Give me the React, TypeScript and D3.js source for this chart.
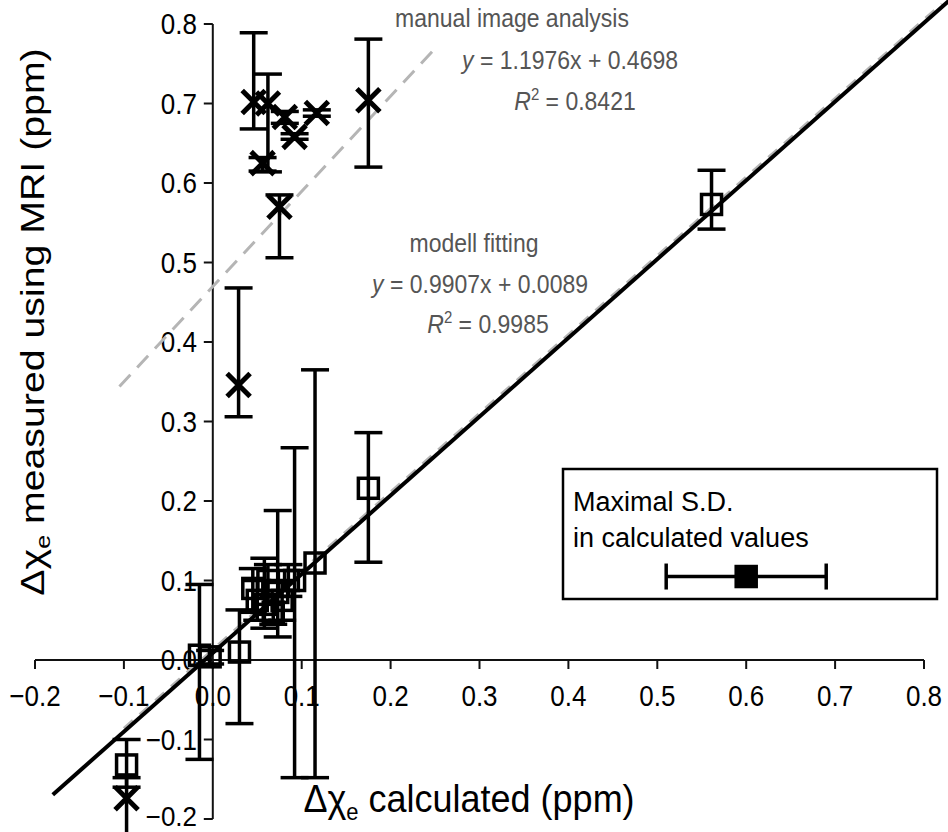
import React from "react";
import * as d3 from "d3";

// ---- data ----
const TICKS = [-0.2, -0.1, 0.0, 0.1, 0.2, 0.3, 0.4, 0.5, 0.6, 0.7, 0.8];

// model fitting (open squares)
const sqX = [-0.015, -0.003, 0.03, 0.045, 0.05, 0.058, 0.062, 0.068, 0.073, 0.078, 0.085, 0.092, 0.115, 0.175, 0.561, -0.097];
const sqY = [0.006, 0.004, 0.01, 0.09, 0.075, 0.07, 0.1, 0.06, 0.085, 0.075, 0.1, 0.1, 0.122, 0.216, 0.573, -0.132];
const sqLo = [-0.125, -0.005, -0.08, 0.06, 0.05, 0.04, 0.07, 0.045, 0.029, 0.05, 0.08, -0.148, -0.148, 0.123, 0.542, -0.16];
const sqHi = [0.095, 0.012, 0.063, 0.115, 0.1, 0.128, 0.12, 0.08, 0.188, 0.1, 0.12, 0.267, 0.365, 0.286, 0.616, -0.1];

// manual image analysis (crosses)
const crX = [0.046, 0.062, 0.056, 0.081, 0.092, 0.117, 0.075, 0.175, 0.029, -0.097];
const crY = [0.702, 0.7, 0.625, 0.683, 0.658, 0.688, 0.57, 0.704, 0.346, -0.174];
const crLo = [0.668, 0.614, 0.615, 0.675, 0.655, 0.684, 0.506, 0.62, 0.306, -0.22];
const crHi = [0.789, 0.737, 0.632, 0.69, 0.662, 0.692, 0.585, 0.781, 0.468, -0.148];

// fit lines
const modelFit = { slope: 0.9907, intercept: 0.0089, x0: -0.18, x1: 0.83 };
const refLine = { slope: 0.9907, intercept: 0.013, x0: -0.1, x1: 0.82 };
const manualFit = { slope: 1.1976, intercept: 0.4698, x0: -0.105, x1: 0.25 };

// legend sample
const legendX = [0.6];
const legendY = [0.105];
const legendSD = [0.09];

const FONT = "'Liberation Sans', Arial, Helvetica, sans-serif";

export default function App() {
  const W = 948, H = 832;
  const x = d3.scaleLinear().domain([-0.2, 0.8]).range([35, 924]);
  const y = d3.scaleLinear().domain([-0.2, 0.8]).range([819, 24]);
  const x0 = x(0), y0 = y(0);
  const SY = 1.15;
  const fmt = d3.format(".1f");

  const line = (f: { slope: number; intercept: number; x0: number; x1: number }) =>
    d3.line<number>().x((d) => x(d)).y((d) => y(f.slope * d + f.intercept))([f.x0, f.x1]) as string;

  const cap = 14;
  const sq = 10;
  const cr = 11.5;
  const AF = 23;

  const txt = (
    key: string,
    tx: number,
    ty: number,
    content: React.ReactNode,
    size: number,
    anchor: string,
    fill = "#000",
    sy = SY
  ) => (
    <text
      key={key}
      transform={`translate(${tx},${ty}) scale(1,${sy})`}
      fontSize={size}
      fontFamily={FONT}
      textAnchor={anchor}
      fill={fill}
    >
      {content}
    </text>
  );

  return (
    <svg width={W} height={H} style={{ position: "absolute", left: 0, top: 0, background: "#fff" }}>
      <rect width={W} height={H} fill="#fff" />
      {/* axes */}
      <line x1={x(-0.2)} x2={x(0.8)} y1={y0} y2={y0} stroke="#111" strokeWidth={2} />
      <line x1={x0} x2={x0} y1={y(0.8)} y2={y(-0.2)} stroke="#111" strokeWidth={2} />
      {TICKS.map((t) => (
        <g key={"xt" + t}>
          <line x1={x(t)} x2={x(t)} y1={y0} y2={y0 + 9} stroke="#111" strokeWidth={2} />
          {txt("xl" + t, x(t), 706, fmt(t), 26, "middle")}
        </g>
      ))}
      {TICKS.map((t) => (
        <g key={"yt" + t}>
          <line x1={x0 - 9} x2={x0} y1={y(t)} y2={y(t)} stroke="#111" strokeWidth={2} />
          {txt("yl" + t, 197, Math.min(y(t) + 10, 826), fmt(t), 26, "end", "#000", t < -0.15 ? 1.05 : SY)}
        </g>
      ))}

      {/* fit lines */}
      <path d={line(manualFit)} stroke="#b5b5b5" strokeWidth={3} strokeDasharray="16 10" fill="none" />
      <path d={line(refLine)} stroke="#b5b5b5" strokeWidth={3} strokeDasharray="12 9" fill="none" />
      <path d={line(modelFit)} stroke="#000" strokeWidth={4} fill="none" />

      {/* squares with error bars */}
      {sqX.map((v, i) => (
        <g key={"s" + i} stroke="#000" strokeWidth={3.5} fill="none">
          <line x1={x(v)} x2={x(v)} y1={y(sqLo[i])} y2={y(sqHi[i])} />
          <line x1={x(v) - cap} x2={x(v) + cap} y1={y(sqLo[i])} y2={y(sqLo[i])} />
          <line x1={x(v) - cap} x2={x(v) + cap} y1={y(sqHi[i])} y2={y(sqHi[i])} />
          <rect x={x(v) - sq} y={y(sqY[i]) - sq} width={sq * 2} height={sq * 2} />
        </g>
      ))}

      {/* crosses with error bars */}
      {crX.map((v, i) => (
        <g key={"c" + i} stroke="#000" strokeWidth={3.5} fill="none">
          <line x1={x(v)} x2={x(v)} y1={y(crLo[i])} y2={y(crHi[i])} />
          <line x1={x(v) - cap} x2={x(v) + cap} y1={y(crLo[i])} y2={y(crLo[i])} />
          <line x1={x(v) - cap} x2={x(v) + cap} y1={y(crHi[i])} y2={y(crHi[i])} />
          <path
            strokeWidth={5}
            d={`M${x(v) - cr},${y(crY[i]) - cr}L${x(v) + cr},${y(crY[i]) + cr}M${x(v) - cr},${y(crY[i]) + cr}L${x(v) + cr},${y(crY[i]) - cr}`}
          />
        </g>
      ))}

      {/* annotations */}
      {txt("a1", 512, 27, "manual image analysis", AF, "middle", "#555")}
      {txt(
        "a2",
        570,
        69,
        <>
          <tspan fontStyle="italic">y</tspan> = 1.1976x + 0.4698
        </>,
        AF,
        "middle",
        "#555"
      )}
      {txt(
        "a3",
        575,
        110,
        <>
          <tspan fontStyle="italic">R</tspan>
          <tspan fontSize={15} dy={-9}>2</tspan>
          <tspan dy={9}> = 0.8421</tspan>
        </>,
        AF,
        "middle",
        "#555"
      )}
      {txt("b1", 474, 252, "modell fitting", AF, "middle", "#555")}
      {txt(
        "b2",
        480,
        293,
        <>
          <tspan fontStyle="italic">y</tspan> = 0.9907x + 0.0089
        </>,
        AF,
        "middle",
        "#555"
      )}
      {txt(
        "b3",
        488,
        333,
        <>
          <tspan fontStyle="italic">R</tspan>
          <tspan fontSize={15} dy={-9}>2</tspan>
          <tspan dy={9}> = 0.9985</tspan>
        </>,
        AF,
        "middle",
        "#555"
      )}

      {/* axis titles */}
      {txt(
        "xt",
        469,
        812,
        <>
          Δχ<tspan fontSize={22} dy={7}>e</tspan>
          <tspan dy={-7}> calculated (ppm)</tspan>
        </>,
        36,
        "middle",
        "#000",
        1.08
      )}
      <text
        transform={`translate(44,322) rotate(-90) scale(1.19,1)`}
        fontSize={33}
        fontFamily={FONT}
        textAnchor="middle"
        fill="#000"
      >
        Δχ<tspan fontSize={21} dy={6}>e</tspan>
        <tspan dy={-6}> measured using MRI (ppm)</tspan>
      </text>

      {/* legend */}
      <rect x={563} y={469} width={374} height={130} fill="#fff" stroke="#000" strokeWidth={2.5} />
      {txt("l1", 573, 511, "Maximal S.D.", 27, "start", "#000", 1.0)}
      {txt("l2", 573, 547, "in calculated values", 27, "start", "#000", 1.0)}
      {legendX.map((v, i) => (
        <g key={"lg" + i} stroke="#000" strokeWidth={3.5}>
          <line x1={x(v - legendSD[i])} x2={x(v + legendSD[i])} y1={y(legendY[i])} y2={y(legendY[i])} />
          <line x1={x(v - legendSD[i])} x2={x(v - legendSD[i])} y1={y(legendY[i]) - 13} y2={y(legendY[i]) + 13} />
          <line x1={x(v + legendSD[i])} x2={x(v + legendSD[i])} y1={y(legendY[i]) - 13} y2={y(legendY[i]) + 13} />
          <rect x={x(v) - 10} y={y(legendY[i]) - 10} width={20} height={20} fill="#000" />
        </g>
      ))}
    </svg>
  );
}
